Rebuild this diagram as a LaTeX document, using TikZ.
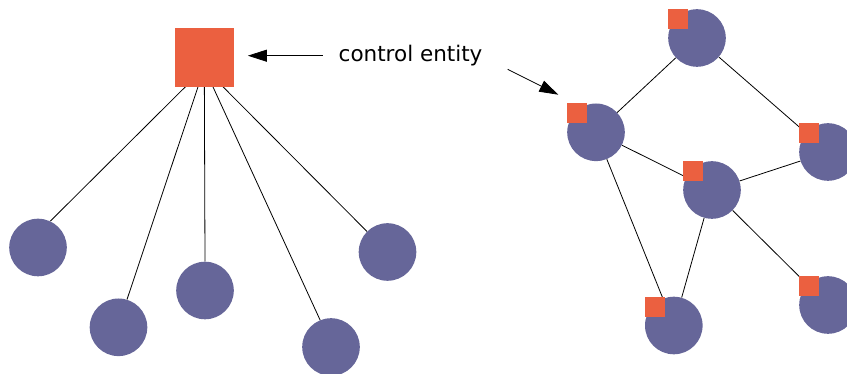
\documentclass[tikz,border=0pt]{standalone}
\usepackage{fontspec}
\setmainfont{DejaVu Sans}
\usetikzlibrary{arrows.meta,backgrounds}
\definecolor{ent}{RGB}{235,96,64}
\definecolor{nod}{RGB}{102,102,153}
\tikzset{
  bigsq/.style={rectangle,fill=ent,minimum size=58.7pt,inner sep=0pt},
  smallsq/.style={rectangle,fill=ent,minimum size=20pt,inner sep=0pt,anchor=north west},
  dot/.style={circle,fill=nod,minimum size=57.6pt,inner sep=0pt},
  edge/.style={draw=black,line width=0.8pt},
  arr/.style={draw=black,line width=0.8pt,-{Triangle[length=19pt,width=12pt]}}
}
\begin{document}
\begin{tikzpicture}[x=1pt,y=-1pt]
\useasboundingbox (0,0) rectangle (847,374);
% left: centralised
\node[bigsq] (sq) at (204.3,57.3) {};
\coordinate (hub) at (204.3,68);
\node[dot] (l1) at (38,247.5) {};
\node[dot] (l2) at (118.5,327.3) {};
\node[dot] (l3) at (205,290.5) {};
\node[dot] (l4) at (331,347) {};
\node[dot] (l5) at (387.5,252) {};
\begin{scope}[on background layer]
\draw[edge] (hub) -- (l1.65.6);
\draw[edge] (hub) -- (l2.73.7);
\draw[edge] (hub) -- (l3.90);
\draw[edge] (hub) -- (l4.112.9);
\draw[edge] (hub) -- (l5.135.7);
\end{scope}
% label and arrows
\node[anchor=base west,inner sep=0pt,font=\fontsize{21.5}{24}\selectfont] (lbl) at (338.5,61.7) {control entity};
\coordinate (a1s) at (322.7,55.7);
\coordinate (a2s) at (507.7,69.3);
\coordinate (a2e) at (558.3,94.7);
\draw[arr,shorten >=14pt] (a1s) -- (sq.east |- a1s);
\draw[arr] (a2s) -- (a2e);
% right: distributed
\node[dot] (r1) at (697,38) {};
\node[dot] (r2) at (596,132.3) {};
\node[dot] (r3) at (828,152) {};
\node[dot] (r4) at (712,190) {};
\node[dot] (r5) at (673.8,325.5) {};
\node[dot] (r6) at (828,305) {};
\begin{scope}[on background layer]
\draw[edge] (r1) -- (r2);
\draw[edge] (r1) -- (r3);
\draw[edge] (r2) -- (r4);
\draw[edge] (r4) -- (r3);
\draw[edge] (r2) -- (r5);
\draw[edge] (r4) -- (r5);
\draw[edge] (r4) -- (r6);
\end{scope}
\foreach \n in {r1,r2,r3,r4,r5,r6}
  \node[smallsq] (s\n) at (\n.west |- \n.north) {};
\end{tikzpicture}
\end{document}
